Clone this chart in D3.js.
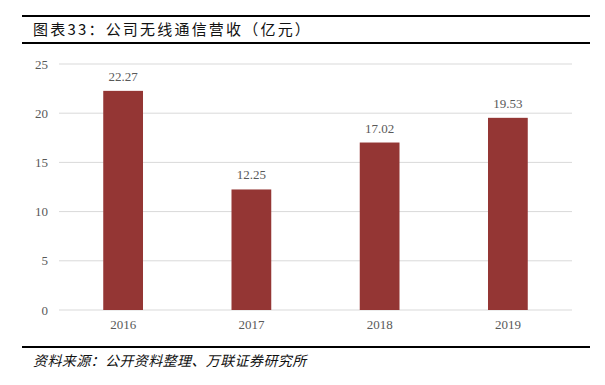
<!DOCTYPE html>
<html>
<head>
<meta charset="utf-8">
<script src="https://cdn.jsdelivr.net/npm/d3@7"></script>
<style>
  body { margin: 0; background: #fff; }
  svg { display: block; }
</style>
</head>
<body>
<svg id="chart" width="605" height="385"></svg>
<script>
const years = ['2016', '2017', '2018', '2019']
const revenue = [22.27, 12.25, 17.02, 19.53]
const yTicks = [0, 5, 10, 15, 20, 25]

const titleText = '图表33：公司无线通信营收（亿元）'
const sourceText = '资料来源：公开资料整理、万联证券研究所'

const svg = d3.select('#chart')
const margin = {top: 64, right: 33, bottom: 75, left: 59}
const width = 605 - margin.left - margin.right
const height = 385 - margin.top - margin.bottom

// header rules + title
svg.append('line').attr('x1', 22).attr('x2', 590).attr('y1', 16).attr('y2', 16)
  .attr('stroke', '#000').attr('stroke-width', 2)
svg.append('line').attr('x1', 22).attr('x2', 590).attr('y1', 43).attr('y2', 43)
  .attr('stroke', '#000').attr('stroke-width', 2)
svg.append('text')
  .attr('x', 33).attr('y', 35)
  .attr('font-family', '"Noto Sans CJK SC", sans-serif')
  .attr('font-size', 15)
  .attr('letter-spacing', 2.2)
  .attr('fill', '#111')
  .text(titleText)

let x = d3.scaleBand().domain(years).range([0, width]).paddingInner(0.69).paddingOuter(0.345)
let y = d3.scaleLinear().domain([0, 25]).range([height, 0])

let g = svg.append('g').attr('transform', `translate(${margin.left},${margin.top})`)

g.selectAll('.grid')
  .data(yTicks)
  .enter().append('line')
  .attr('class', 'grid')
  .attr('x1', 0).attr('x2', width)
  .attr('y1', d => y(d)).attr('y2', d => y(d))
  .attr('stroke', '#d9d9d9').attr('stroke-width', 1)

let yAxis = g.append('g').call(d3.axisLeft(y).tickValues(yTicks).tickSize(0).tickPadding(11))
yAxis.select('.domain').remove()
yAxis.selectAll('text')
  .attr('font-family', '"Liberation Serif", serif')
  .attr('font-size', 13).attr('fill', '#595959')

g.selectAll('.bar')
  .data(revenue)
  .enter().append('rect')
  .attr('class', 'bar')
  .attr('x', (d, i) => x(years[i]))
  .attr('y', d => y(d))
  .attr('width', x.bandwidth())
  .attr('height', d => height - y(d))
  .attr('fill', '#943634')

g.selectAll('.val')
  .data(revenue)
  .enter().append('text')
  .attr('class', 'val')
  .attr('x', (d, i) => x(years[i]) + x.bandwidth() / 2)
  .attr('y', d => y(d) - 10)
  .attr('text-anchor', 'middle')
  .attr('font-family', '"Liberation Serif", serif')
  .attr('font-size', 13).attr('fill', '#595959')
  .text(d => d.toFixed(2))

let xAxis = g.append('g').attr('transform', `translate(0,${height})`)
  .call(d3.axisBottom(x).tickSize(0).tickPadding(10))
xAxis.select('.domain').remove()
xAxis.selectAll('text')
  .attr('font-family', '"Liberation Serif", serif')
  .attr('font-size', 13).attr('fill', '#595959')

// footer
svg.append('line').attr('x1', 22).attr('x2', 590).attr('y1', 347).attr('y2', 347)
  .attr('stroke', '#000').attr('stroke-width', 2)
svg.append('text')
  .attr('x', 33).attr('y', 366)
  .attr('font-family', '"Noto Sans CJK SC", sans-serif')
  .attr('font-size', 14)
  .attr('font-style', 'italic')
  .attr('letter-spacing', 0.4)
  .attr('fill', '#111')
  .text(sourceText)
</script>
</body>
</html>
